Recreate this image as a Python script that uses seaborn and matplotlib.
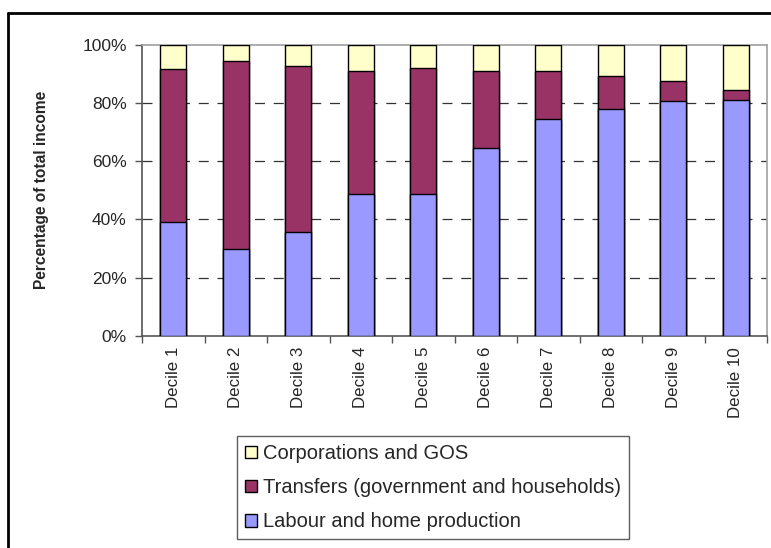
import matplotlib
matplotlib.use("Agg")
import matplotlib.pyplot as plt
from matplotlib.patches import Patch
from matplotlib.lines import Line2D
from matplotlib.ticker import PercentFormatter
import numpy as np
import pandas as pd
import seaborn as sns

# Income shares by decile (percent of total income)
deciles = ["Decile 1", "Decile 2", "Decile 3", "Decile 4", "Decile 5",
           "Decile 6", "Decile 7", "Decile 8", "Decile 9", "Decile 10"]
labour = [39.1, 29.8, 35.7, 48.6, 48.6, 64.6, 74.5, 77.8, 80.5, 81.0]
transfers = [52.4, 64.5, 57.0, 42.5, 43.5, 26.4, 16.5, 11.4, 7.1, 3.4]
corporations = [8.5, 5.7, 7.3, 8.9, 7.9, 9.0, 9.0, 10.8, 12.4, 15.6]

series_names = ["Labour and home production",
                "Transfers (government and households)",
                "Corporations and GOS"]
series_colors = ["#9999FF", "#993366", "#FFFFCC"]

sns.set_theme(style="white")
plt.rcParams["font.family"] = ["Liberation Sans", "DejaVu Sans"]

df = pd.DataFrame({"decile": deciles, "labour": labour,
                   "transfers": transfers, "corporations": corporations})
df["cum1"] = df["labour"]
df["cum2"] = df["labour"] + df["transfers"]
df["cum3"] = df["cum2"] + df["corporations"]

fig = plt.figure(figsize=(7.71, 5.48), dpi=100)
fig.patch.set_facecolor("white")
ax = fig.add_axes([142 / 771, 1 - 335.7 / 548, (767 - 142) / 771, (335.7 - 44.7) / 548])

# stacked bars: draw cumulative totals from the top segment down
for col, color in zip(["cum3", "cum2", "cum1"], series_colors[::-1]):
    sns.barplot(data=df, x="decile", y=col, order=deciles, color=color,
                width=0.42, edgecolor="black", linewidth=1.0,
                saturation=1, ax=ax, zorder=3)

ax.set_ylim(0, 100)
ax.set_xlim(-0.5, len(deciles) - 0.5)
ax.set_yticks(np.arange(0, 101, 20))
ax.yaxis.set_major_formatter(PercentFormatter(decimals=0))
ax.set_xlabel("")
ax.set_ylabel("Percentage of total income", fontsize=11.2, fontweight="bold",
              labelpad=24)

# horizontal dashed grid
for yv in [20, 40, 60, 80]:
    ax.axhline(yv, color="#333333", linewidth=0.9, linestyle=(0, (8, 7)), zorder=1)

# category ticks at boundaries
ax.set_xticks(np.arange(len(deciles)))
ax.set_xticklabels(deciles, rotation=90, fontsize=12.2)
ax.set_xticks(np.arange(-0.5, len(deciles), 1), minor=True)
ax.tick_params(axis="x", which="major", length=0, pad=8)
ax.tick_params(axis="x", which="minor", length=5, width=1, color="#555555",
               direction="out", bottom=True)
ax.tick_params(axis="y", labelsize=12.5, length=5, width=1, color="#555555",
               direction="out", left=True, pad=6)

for side in ["left", "bottom"]:
    ax.spines[side].set_color("#555555")
    ax.spines[side].set_linewidth(1.2)
for side in ["top", "right"]:
    ax.spines[side].set_color("#a0a0a0")
    ax.spines[side].set_linewidth(1.2)

# legend in reverse stacking order
handles = [Patch(facecolor=c, edgecolor="black", linewidth=1.0)
           for c in series_colors[::-1]]
leg = fig.legend(handles, series_names[::-1], loc="upper left",
                 bbox_to_anchor=(237 / 771, 1 - 436 / 548),
                 fontsize=14.5, frameon=True, fancybox=False,
                 handlelength=0.6, handleheight=0.6, handletextpad=0.3,
                 labelspacing=0.75, borderpad=0.4, borderaxespad=0)
leg.get_frame().set_edgecolor("#333333")
leg.get_frame().set_linewidth(1.0)

# chart border lines
fig.add_artist(Line2D([7.5 / 771, 7.5 / 771], [0, 1 - 12.5 / 548],
                      transform=fig.transFigure, color="black", linewidth=2))
fig.add_artist(Line2D([7.5 / 771, 1], [1 - 12.5 / 548, 1 - 12.5 / 548],
                      transform=fig.transFigure, color="black", linewidth=2))

fig.savefig("out.png", dpi=100, facecolor="white")
